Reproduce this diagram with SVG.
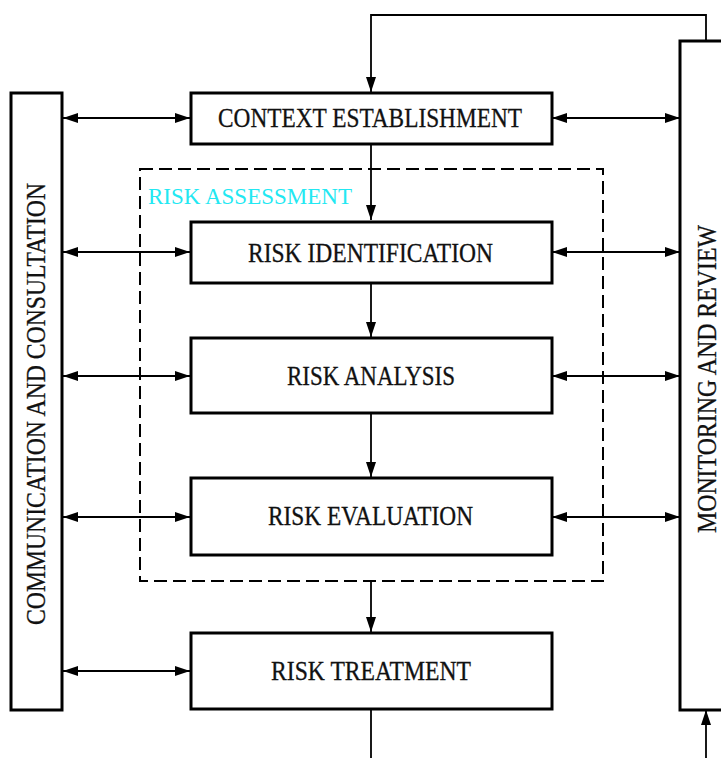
<svg xmlns="http://www.w3.org/2000/svg" width="721" height="758" viewBox="0 0 721 758">
  <style>
    .box { fill: #fff; stroke: #000; stroke-width: 3; }
    .frame { fill: none; stroke: #000; stroke-width: 2; stroke-dasharray: 13 6; }
    .wire { fill: none; stroke: #000; stroke-width: 1.8; }
    .lbl { font-family: "Liberation Serif", "DejaVu Serif", serif; font-size: 27px; fill: #111; stroke: #111; stroke-width: 0.3; }
    .cyan { font-family: "Liberation Serif", "DejaVu Serif", serif; font-size: 24px; fill: #22e8f2; }
  </style>
  <defs>
    <marker id="arr" viewBox="0 0 15 10" refX="15" refY="5" markerWidth="15" markerHeight="10" markerUnits="userSpaceOnUse" orient="auto-start-reverse">
      <path d="M0,0 L15,5 L0,10 z" fill="#000"/>
    </marker>
  </defs>
  <rect width="721" height="758" fill="#fff"/>

  <!-- risk assessment frame -->
  <g id="risk-assessment">
    <rect class="frame" x="140" y="169" width="463" height="412"/>
    <text class="cyan" x="148" y="204" textLength="204" lengthAdjust="spacingAndGlyphs">RISK ASSESSMENT</text>
  </g>

  <!-- connectors -->
  <g id="connectors">
    <path class="wire" d="M706,41 V15 H371 V92" marker-end="url(#arr)"/>
    <path class="wire" d="M371,144 V220" marker-end="url(#arr)"/>
    <path class="wire" d="M371,284 V337" marker-end="url(#arr)"/>
    <path class="wire" d="M371,413 V477" marker-end="url(#arr)"/>
    <path class="wire" d="M371,581 V632" marker-end="url(#arr)"/>
    <path class="wire" d="M371,710 V758"/>
    <path class="wire" d="M706,758 V710" marker-end="url(#arr)"/>

    <path class="wire" d="M63,118 H190" marker-start="url(#arr)" marker-end="url(#arr)"/>
    <path class="wire" d="M552,118 H680" marker-start="url(#arr)" marker-end="url(#arr)"/>
    <path class="wire" d="M63,252 H190" marker-start="url(#arr)" marker-end="url(#arr)"/>
    <path class="wire" d="M552,252 H680" marker-start="url(#arr)" marker-end="url(#arr)"/>
    <path class="wire" d="M63,376 H190" marker-start="url(#arr)" marker-end="url(#arr)"/>
    <path class="wire" d="M552,376 H680" marker-start="url(#arr)" marker-end="url(#arr)"/>
    <path class="wire" d="M63,517 H190" marker-start="url(#arr)" marker-end="url(#arr)"/>
    <path class="wire" d="M552,517 H680" marker-start="url(#arr)" marker-end="url(#arr)"/>
    <path class="wire" d="M63,671 H190" marker-start="url(#arr)" marker-end="url(#arr)"/>
  </g>

  <g id="communication">
    <rect class="box" x="11" y="93" width="51" height="617"/>
    <text class="lbl" transform="translate(45,404) rotate(-90)" x="-221" y="0" textLength="442" lengthAdjust="spacingAndGlyphs">COMMUNICATION AND CONSULTATION</text>
  </g>

  <g id="monitoring">
    <rect class="box" x="680" y="41" width="60" height="669"/>
    <text class="lbl" transform="translate(716,379) rotate(-90)" x="-154" y="0" textLength="308" lengthAdjust="spacingAndGlyphs">MONITORING AND REVIEW</text>
  </g>

  <g id="context">
    <rect class="box" x="191" y="93" width="361" height="51"/>
    <text class="lbl" x="218" y="127" textLength="304" lengthAdjust="spacingAndGlyphs">CONTEXT ESTABLISHMENT</text>
  </g>

  <g id="identification">
    <rect class="box" x="191" y="222" width="361" height="61"/>
    <text class="lbl" x="248" y="262" textLength="245" lengthAdjust="spacingAndGlyphs">RISK IDENTIFICATION</text>
  </g>

  <g id="analysis">
    <rect class="box" x="191" y="338" width="361" height="75"/>
    <text class="lbl" x="287" y="385" textLength="168" lengthAdjust="spacingAndGlyphs">RISK ANALYSIS</text>
  </g>

  <g id="evaluation">
    <rect class="box" x="191" y="478" width="361" height="77"/>
    <text class="lbl" x="268" y="525" textLength="205" lengthAdjust="spacingAndGlyphs">RISK EVALUATION</text>
  </g>

  <g id="treatment">
    <rect class="box" x="191" y="633" width="361" height="76"/>
    <text class="lbl" x="271" y="680" textLength="200" lengthAdjust="spacingAndGlyphs">RISK TREATMENT</text>
  </g>
</svg>
